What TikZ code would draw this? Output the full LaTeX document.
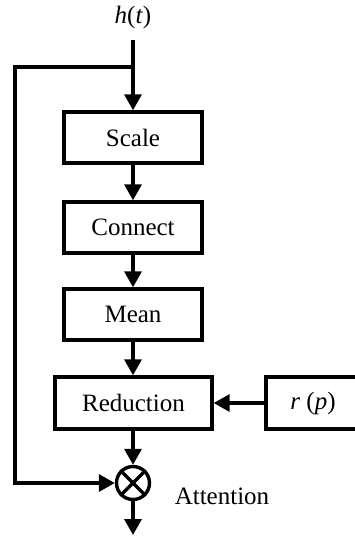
\documentclass[tikz,border=0pt]{standalone}
\usepackage{fontspec}
\setmainfont{Liberation Serif}
\usetikzlibrary{arrows.meta}

\begin{document}
\begin{tikzpicture}[
  x=1pt, y=1pt,
  line width=1.7pt,
  font=\fontsize{12.5}{14}\selectfont,
  block/.style={draw, line width=1.7pt, minimum width=69pt, minimum height=25.5pt, inner sep=0pt},
  arr/.style={-{Triangle[length=8pt,width=8.5pt]}}
]
  \useasboundingbox (0,0) rectangle (177,-268);

  %% input and blocks
  \node (ht) at (66.5,-8.5) {\textit{h}(\textit{t})};
  \coordinate (hin) at (66.5,-20);
  \coordinate (split) at (66.5,-33.5);
  \node[block] (scale) at (66.5,-68.75) {Scale};
  \node[block] (connect) at (66.5,-113.75) {Connect};
  \node[block] (mean) at (66.5,-157.25) {Mean};
  \node[block, minimum width=78.5pt, minimum height=26pt] (reduction) at (66.75,-201.5) {Reduction};
  \node[block, minimum width=47pt, minimum height=26pt] (rp) at (156.5,-201.5) {\textit{r} (\textit{p})};

  %% multiplication
  \node[draw, circle, minimum size=16.5pt, inner sep=0pt] (mult) at (66.5,-241.5) {};
  \draw (mult.north east) -- (mult.south west);
  \draw (mult.north west) -- (mult.south east);
  \node (attn) at (111,-248) {Attention};

  %% connectors
  \draw[arr] (hin) -- (scale.north);
  \draw[arr] (scale) -- (connect);
  \draw[arr] (connect) -- (mean);
  \draw[arr] (mean) -- (mean |- reduction.north);
  \draw[arr] (rp) -- (reduction);
  \draw[arr] (reduction.south -| mult) -- (mult);
  \coordinate (tl) at (7.5,-33.5);
  \coordinate (bl) at (7.5,-241.5);
  \draw[arr] (split) -- (tl) -- (bl) -- (mult);
  \coordinate (out) at (66.5,-267.5);
  \draw[arr] (mult) -- (out);

\end{tikzpicture}
\end{document}
